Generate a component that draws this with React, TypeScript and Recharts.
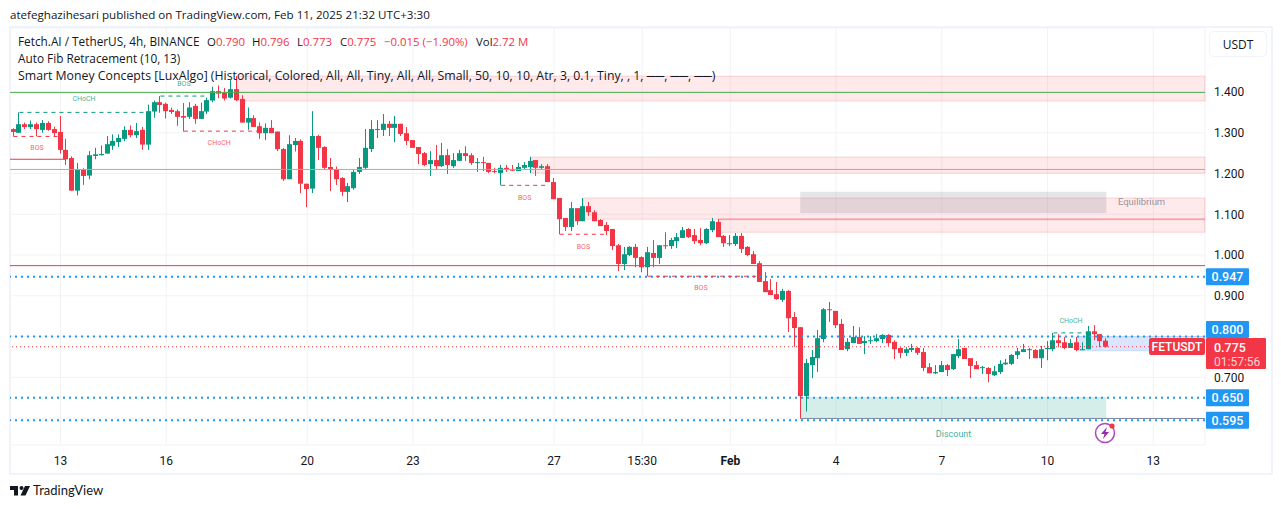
import React from "react";
import { ComposedChart, Bar, XAxis, YAxis, CartesianGrid, ReferenceLine, ReferenceArea, ReferenceDot } from "recharts";

// FET/USDT 4h candles
const opens = [
  1.309,1.300,1.321,1.314,1.321,1.307,1.324,1.309,1.302,1.258,
  1.238,1.158,1.209,1.195,1.243,1.245,1.249,1.268,1.277,1.285,
  1.307,1.294,1.307,1.271,1.352,1.375,1.371,1.356,1.353,1.341,
  1.339,1.366,1.334,1.352,1.379,1.402,1.398,1.386,1.407,1.383,
  1.325,1.336,1.316,1.299,1.312,1.303,1.260,1.186,1.270,1.280,
  1.175,1.163,1.292,1.265,1.216,1.211,1.189,1.155,1.164,1.204,
  1.214,1.260,1.307,1.307,1.322,1.312,1.322,1.299,1.282,1.265,
  1.250,1.223,1.233,1.218,1.245,1.218,1.231,1.250,1.245,1.227,
  1.228,1.226,1.206,1.201,1.214,1.211,1.206,1.214,1.216,1.233,
  1.214,1.218,1.179,1.140,1.091,1.069,1.115,1.083,1.120,1.105,
  1.086,1.074,1.064,1.024,0.978,1.000,1.020,0.995,0.970,1.005,
  0.993,1.024,1.022,1.034,1.042,1.064,1.049,1.037,1.029,1.061,
  1.081,1.047,1.028,1.027,1.047,1.020,1.002,0.980,0.936,0.914,
  0.904,0.890,0.912,0.848,0.823,0.654,0.730,0.747,0.794,0.867,
  0.863,0.831,0.769,0.784,0.799,0.784,0.790,0.789,0.794,0.804,
  0.787,0.772,0.760,0.767,0.772,0.762,0.725,0.710,0.713,0.730,
  0.720,0.752,0.772,0.747,0.730,0.723,0.723,0.705,0.713,0.732,
  0.733,0.755,0.762,0.767,0.767,0.747,0.769,0.769,0.791,0.786,
  0.772,0.786,0.768,0.769,0.813,0.806,0.790,
];
const highs = [
  1.311,1.350,1.325,1.330,1.325,1.331,1.328,1.315,1.341,1.285,
  1.242,1.226,1.213,1.255,1.263,1.269,1.292,1.296,1.296,1.316,
  1.318,1.324,1.314,1.369,1.379,1.390,1.374,1.362,1.357,1.373,
  1.375,1.371,1.374,1.386,1.413,1.416,1.410,1.429,1.439,1.392,
  1.362,1.343,1.325,1.323,1.331,1.303,1.263,1.294,1.287,1.284,
  1.175,1.353,1.295,1.267,1.238,1.217,1.191,1.177,1.211,1.238,
  1.309,1.331,1.331,1.346,1.329,1.341,1.322,1.314,1.282,1.265,
  1.253,1.255,1.270,1.275,1.260,1.250,1.258,1.267,1.250,1.238,
  1.241,1.226,1.214,1.221,1.221,1.221,1.226,1.228,1.241,1.233,
  1.223,1.223,1.189,1.140,1.091,1.130,1.115,1.140,1.130,1.110,
  1.088,1.081,1.064,1.027,1.020,1.022,1.027,0.997,1.020,1.037,
  1.024,1.056,1.042,1.054,1.069,1.066,1.064,1.066,1.066,1.091,
  1.088,1.049,1.049,1.054,1.054,1.022,1.010,0.985,0.958,0.941,
  0.934,0.917,0.914,0.860,0.823,0.745,0.767,0.816,0.870,0.885,
  0.863,0.843,0.796,0.826,0.823,0.801,0.801,0.806,0.806,0.806,
  0.791,0.774,0.774,0.782,0.774,0.772,0.735,0.730,0.740,0.733,
  0.757,0.794,0.772,0.747,0.740,0.728,0.725,0.728,0.742,0.745,
  0.757,0.772,0.782,0.772,0.769,0.777,0.789,0.809,0.806,0.799,
  0.794,0.799,0.786,0.826,0.828,0.806,0.796,
];
const lows = [
  1.291,1.300,1.309,1.309,1.291,1.300,1.305,1.291,1.249,1.221,
  1.158,1.146,1.172,1.186,1.235,1.244,1.248,1.258,1.265,1.279,
  1.289,1.287,1.258,1.258,1.337,1.349,1.335,1.346,1.317,1.303,
  1.334,1.322,1.334,1.346,1.375,1.385,1.379,1.384,1.378,1.325,
  1.307,1.314,1.285,1.282,1.299,1.255,1.182,1.186,1.254,1.152,
  1.118,1.152,1.233,1.209,1.157,1.172,1.145,1.130,1.160,1.199,
  1.211,1.253,1.287,1.292,1.292,1.277,1.292,1.270,1.263,1.223,
  1.218,1.194,1.211,1.216,1.199,1.214,1.231,1.231,1.221,1.204,
  1.206,1.201,1.201,1.171,1.204,1.206,1.206,1.211,1.201,1.194,
  1.209,1.179,1.137,1.051,1.059,1.059,1.074,1.083,1.096,1.083,
  1.071,1.049,1.012,0.961,0.963,0.997,0.970,0.958,0.948,0.970,
  0.978,1.015,1.015,1.017,1.042,1.042,1.027,1.024,1.027,1.056,
  1.044,1.020,1.022,1.022,1.005,0.997,0.978,0.934,0.909,0.902,
  0.890,0.885,0.811,0.775,0.599,0.616,0.698,0.713,0.786,0.836,
  0.821,0.767,0.764,0.784,0.782,0.757,0.782,0.786,0.784,0.777,
  0.745,0.747,0.752,0.762,0.755,0.715,0.710,0.708,0.713,0.703,
  0.718,0.747,0.745,0.698,0.720,0.708,0.688,0.703,0.708,0.730,
  0.730,0.745,0.762,0.745,0.747,0.723,0.742,0.764,0.774,0.769,
  0.772,0.764,0.767,0.769,0.791,0.774,0.773,
];
const closes = [
  1.302,1.321,1.314,1.321,1.309,1.324,1.307,1.299,1.258,1.235,
  1.158,1.209,1.194,1.245,1.247,1.248,1.272,1.280,1.287,1.307,
  1.294,1.304,1.271,1.353,1.375,1.368,1.353,1.351,1.339,1.337,
  1.362,1.334,1.353,1.380,1.402,1.396,1.384,1.407,1.380,1.325,
  1.336,1.314,1.299,1.312,1.299,1.260,1.186,1.272,1.280,1.175,
  1.162,1.292,1.263,1.214,1.209,1.186,1.155,1.169,1.204,1.216,
  1.263,1.309,1.309,1.322,1.312,1.322,1.297,1.280,1.263,1.248,
  1.221,1.233,1.218,1.245,1.221,1.233,1.250,1.243,1.226,1.228,
  1.227,1.204,1.204,1.214,1.211,1.207,1.216,1.221,1.231,1.214,
  1.218,1.179,1.137,1.088,1.069,1.115,1.083,1.120,1.105,1.083,
  1.071,1.059,1.022,0.978,1.002,1.020,0.993,0.970,1.007,0.993,
  1.024,1.022,1.037,1.044,1.061,1.044,1.034,1.029,1.064,1.083,
  1.044,1.029,1.029,1.047,1.015,1.000,0.978,0.934,0.909,0.902,
  0.892,0.912,0.845,0.821,0.654,0.735,0.750,0.796,0.867,0.866,
  0.828,0.767,0.787,0.799,0.782,0.789,0.791,0.796,0.804,0.784,
  0.769,0.760,0.769,0.772,0.760,0.723,0.710,0.713,0.730,0.718,
  0.757,0.769,0.745,0.728,0.720,0.725,0.708,0.715,0.733,0.736,
  0.755,0.764,0.769,0.769,0.747,0.769,0.772,0.791,0.784,0.772,
  0.784,0.767,0.769,0.813,0.806,0.789,0.775,
];

const timeTicks = [8, 26, 50, 68, 92, 107, 122, 140, 158, 176, 194];
const timeLabels = ["13", "16", "20", "23", "27", "15:30", "Feb", "4", "7", "10", "13"];
const priceTicks = [0.6, 0.7, 0.8, 0.9, 1.0, 1.1, 1.2, 1.3, 1.4];
// these two sit under the blue price tags
const hiddenPriceTicks = [0.6, 0.8];

const X_MIN = -0.6;
const X_MAX = 202.8;
const UP = "#089981";
const DOWN = "#f23645";
const BLUE = "#2196f3";
const FONT = "Roboto, sans-serif";
const UI_FONT = "'Open Sans', sans-serif";

const rows = opens.map((open, i) => ({
  i,
  open,
  close: closes[i],
  high: highs[i],
  low: lows[i],
  range: [lows[i], highs[i]],
}));

// [x1, x2, price top, price bottom]
const supplyZones = [
  [38, X_MAX, 1.439, 1.378],
  [88.2, X_MAX, 1.2405, 1.201],
  [97, X_MAX, 1.14, 1.088],
  [120, X_MAX, 1.088, 1.056],
];

// [x1, x2, price, colour]
const structureLines: [number, number, number, string][] = [
  [1, 23, 1.35, UP],
  [0, 8, 1.291, DOWN],
  [25, 33, 1.39, UP],
  [29, 42, 1.304, DOWN],
  [83, 91, 1.171, DOWN],
  [93, 101, 1.051, DOWN],
  [108, 126.5, 0.948, DOWN],
  [177, 183, 0.809, UP],
];

// [text, x, price, colour, size]
const structureLabels: [string, number, number, string, number][] = [
  ["CHoCH", 12, 1.383, UP, 7],
  ["BOS", 4, 1.263, DOWN, 7],
  ["BOS", 29, 1.42, UP, 7],
  ["CHoCH", 35, 1.277, DOWN, 7],
  ["BOS", 87, 1.142, DOWN, 7],
  ["BOS", 97, 1.022, DOWN, 7],
  ["BOS", 117, 0.921, DOWN, 7],
  ["CHoCH", 180, 0.84, UP, 7],
  ["Discount", 160, 0.561, UP, 9],
  ["Equilibrium", 192, 1.13, "#787b86", 9.5],
];

// legend values and where each one starts
const legendValues: [string, string, number][] = [
  ["O", "0.790", 207],
  ["H", "0.796", 252],
  ["L", "0.773", 297],
  ["C", "0.775", 340],
  ["", "−0.015 (−1.90%)", 384],
  ["Vol", "2.72 M", 476],
];

const Candle = (props: any) => {
  const { x, y, width, height, payload } = props;
  const color = payload.close >= payload.open ? UP : DOWN;
  const perUnit = height / (payload.high - payload.low);
  const top = y + (payload.high - Math.max(payload.open, payload.close)) * perUnit;
  const bodyH = Math.max(1, Math.abs(payload.open - payload.close) * perUnit);
  const cx = Math.round(x + width / 2 - 0.5);
  return (
    <g>
      <rect x={cx} y={y} width={1} height={height} fill={color} />
      <rect x={cx - 2} y={top} width={5} height={bodyH} fill={color} />
    </g>
  );
};

const PriceTag = ({ viewBox, value, shift = 0 }: any) => {
  const left = viewBox.x + viewBox.width + 1;
  const mid = viewBox.y + shift;
  return (
    <g>
      <rect x={left} y={mid - 8.5} width={43} height={17} rx={1} fill={BLUE} />
      <text x={left + 21.5} y={mid + 4.5} textAnchor="middle" fontSize={12.5} fontWeight={500} fontFamily={FONT} fill="#fff">
        {value}
      </text>
    </g>
  );
};

const LastPriceTag = ({ viewBox }: any) => {
  const right = viewBox.x + viewBox.width;
  const top = viewBox.y - 8.7;
  return (
    <g fontFamily={FONT}>
      <rect x={right - 56} y={top} width={56} height={17} rx={2} fill={DOWN} />
      <text x={right - 28} y={top + 13} textAnchor="middle" fontSize={12} fontWeight={500} fill="#fff">FETUSDT</text>
      <rect x={right + 1} y={top} width={60} height={31} rx={1} fill={DOWN} />
      <text x={right + 9} y={top + 13.5} fontSize={12.5} fontWeight={500} fill="#fff">0.775</text>
      <text x={right + 9} y={top + 27.5} fontSize={12} fill="#ffd0d4">01:57:56</text>
    </g>
  );
};

const TimeTick = ({ x, y, payload }: any) => {
  const label = timeLabels[timeTicks.indexOf(payload.value)];
  return (
    <text x={x} y={y + 12} textAnchor="middle" fontSize={12} fontFamily={FONT} fill="#131722" fontWeight={label === "Feb" ? 700 : 400}>
      {label}
    </text>
  );
};

const legendRow: React.CSSProperties = {
  position: "absolute",
  left: 18,
  fontFamily: UI_FONT,
  fontSize: 11.8,
  color: "#131722",
  whiteSpace: "nowrap",
  lineHeight: "17px",
};

export default function App() {
  return (
    <div style={{ position: "absolute", left: 0, top: 0, width: 1281, height: 509, background: "#fff", overflow: "hidden" }}>
      <div style={{ position: "absolute", left: 9, top: 26, width: 1260, height: 445, border: "2px solid #f0f3fa" }} />
      <ComposedChart
        width={1281}
        height={509}
        data={rows}
        margin={{ top: 28, right: 0, bottom: 0, left: 10 }}
        style={{ position: "absolute", left: 0, top: 0 }}
      >
        <CartesianGrid stroke="#f2f3f6" />
        <XAxis
          dataKey="i"
          type="number"
          domain={[X_MIN, X_MAX]}
          allowDataOverflow
          ticks={timeTicks}
          tick={<TimeTick />}
          interval={0}
          height={64}
          axisLine={false}
          tickLine={false}
        />
        <YAxis
          orientation="right"
          type="number"
          domain={[0.534, 1.557]}
          allowDataOverflow
          ticks={priceTicks}
          interval={0}
          width={76}
          axisLine={false}
          tickLine={false}
          tickMargin={3}
          tickFormatter={(v: number) => (hiddenPriceTicks.includes(v) ? "" : v.toFixed(3))}
          tick={{ fontSize: 12, fontFamily: FONT, fill: "#131722" }}
        />

        {supplyZones.map(([x1, x2, y2, y1], k) => (
          <ReferenceArea key={k} x1={x1} x2={x2} y1={y1} y2={y2} fill="#f23645" fillOpacity={0.11} stroke="#f23645" strokeOpacity={0.18} />
        ))}
        <ReferenceArea x1={133.9} x2={186} y1={1.103} y2={1.155} fill="#787b86" fillOpacity={0.2} stroke="none" />
        <ReferenceArea x1={134} x2={186} y1={0.598} y2={0.652} fill={UP} fillOpacity={0.17} stroke="none" />
        <ReferenceArea x1={181} x2={X_MAX} y1={0.765} y2={0.8} fill="#2962ff" fillOpacity={0.17} stroke={BLUE} strokeOpacity={0.2} />

        <ReferenceLine y={1.399} stroke="#4caf50" />
        <ReferenceLine y={1.21} stroke="#81c784" />
        <ReferenceLine y={0.974} stroke="#e2453a" />
        <ReferenceLine segment={[{ x: X_MIN, y: 1.235 }, { x: 8.9, y: 1.235 }]} stroke={DOWN} />
        <ReferenceLine segment={[{ x: 120, y: 1.088 }, { x: X_MAX, y: 1.088 }]} stroke={DOWN} strokeOpacity={0.2} strokeWidth={2} />
        <ReferenceLine segment={[{ x: 134, y: 0.599 }, { x: X_MAX, y: 0.599 }]} stroke="#7e8ca8" />

        <Bar dataKey="range" barSize={5} shape={<Candle />} isAnimationActive={false} />

        <ReferenceLine y={0.775} stroke={DOWN} strokeDasharray="1 3" label={{ content: (p: any) => <LastPriceTag {...p} /> }} />
        <ReferenceLine y={0.947} stroke={BLUE} strokeWidth={2} strokeDasharray="2 4" label={{ content: (p: any) => <PriceTag {...p} value="0.947" /> }} />
        <ReferenceLine y={0.8} stroke={BLUE} strokeWidth={2} strokeDasharray="2 4" label={{ content: (p: any) => <PriceTag {...p} value="0.800" shift={-7} /> }} />
        <ReferenceLine y={0.65} stroke={BLUE} strokeWidth={2} strokeDasharray="2 4" label={{ content: (p: any) => <PriceTag {...p} value="0.650" /> }} />
        <ReferenceLine y={0.595} stroke={BLUE} strokeWidth={2} strokeDasharray="2 4" label={{ content: (p: any) => <PriceTag {...p} value="0.595" /> }} />

        {structureLines.map(([x1, x2, y, color], k) => (
          <ReferenceLine key={k} segment={[{ x: x1, y }, { x: x2, y }]} stroke={color} strokeDasharray="4 4" />
        ))}

        {structureLabels.map(([text, x, y, color, size], k) => (
          <ReferenceDot
            key={k}
            x={x}
            y={y}
            r={0}
            stroke="none"
            label={{ value: text, position: "center", fill: color, fillOpacity: 0.8, fontSize: size, fontFamily: FONT }}
          />
        ))}
      </ComposedChart>

      <div style={{ ...legendRow, left: 10, top: 6, fontSize: 11.6 }}>
        atefeghazihesari published on TradingView.com, Feb 11, 2025 21:32 UTC+3:30
      </div>
      <div style={{ ...legendRow, top: 33 }}>Fetch.AI / TetherUS, 4h, BINANCE</div>
      {legendValues.map(([name, value, left]) => (
        <div key={left} style={{ ...legendRow, left, top: 33, fontSize: 11.4 }}>
          {name}
          <span style={{ color: DOWN }}>{value}</span>
        </div>
      ))}
      <div style={{ ...legendRow, top: 50 }}>Auto Fib Retracement (10, 13)</div>
      <div style={{ ...legendRow, top: 67, fontSize: 12.3 }}>
        Smart Money Concepts [LuxAlgo] (Historical, Colored, All, All, Tiny, All, All, Small, 50, 10, 10, Atr, 3, 0.1, Tiny, , 1, ──, ──, ──)
      </div>

      <div style={{ position: "absolute", left: 1209, top: 31, width: 58, height: 26, boxSizing: "border-box", border: "1px solid #f0f3fa", borderRadius: 5, fontFamily: UI_FONT, fontSize: 12, color: "#131722", lineHeight: "25px", textAlign: "center" }}>
        USDT
      </div>

      <svg style={{ position: "absolute", left: 1094, top: 422 }} width={24} height={24}>
        <circle cx={11} cy={11} r={9.5} fill="#fff" stroke="#ab47bc" strokeWidth={1.5} />
        <path d="M13 5 L7 12 L10.5 12 L9 17 L15 10 L11.5 10 Z" fill="#9c27b0" />
        <circle cx={18} cy={4} r={2.6} fill={DOWN} />
      </svg>

      <svg style={{ position: "absolute", left: 10, top: 486 }} width={20} height={10}>
        <path d="M0 0 H8 V9.5 H4 V4 H0 Z" fill="#131722" />
        <circle cx={11.5} cy={2} r={2} fill="#131722" />
        <path d="M15 0 H20 L15.5 9.5 H10.5 Z" fill="#131722" />
      </svg>
      <div style={{ ...legendRow, left: 33, top: 482, fontFamily: "Lato, sans-serif", fontSize: 13 }}>TradingView</div>
    </div>
  );
}
